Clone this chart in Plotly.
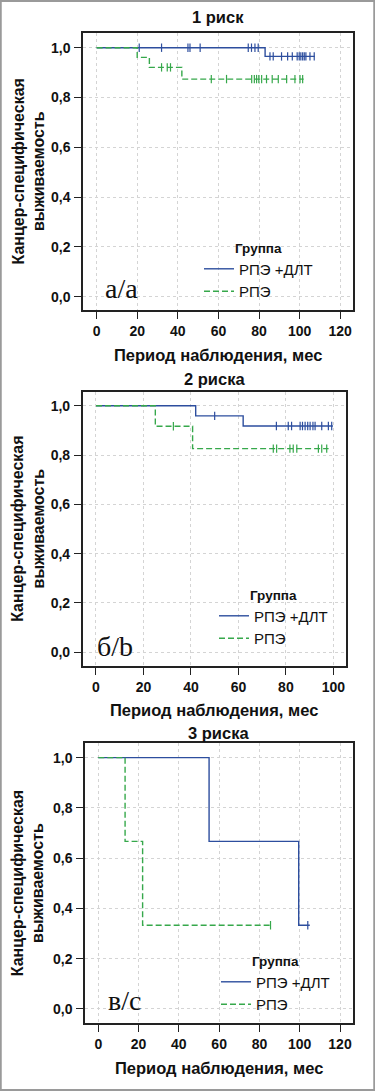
import numpy as np
import plotly.graph_objects as go

# ---------------- data ----------------
panel_titles = ["1 риск", "2 риска", "3 риска"]
panel_letters = ["а/а", "б/b", "в/c"]
group_names = ["РПЭ +ДЛТ", "РПЭ"]

# Panel 1
p1_rpe_dlt_event_t = [83.0]
p1_rpe_dlt_event_s = [0.965]
p1_rpe_dlt_end = 107.5
p1_rpe_dlt_cens = [21, 32, 45, 46, 51, 74.7, 76.3, 78, 79.6,
                   85.4, 87, 91.1, 94.1, 96.4, 98.8, 99.8, 100.6, 101.5, 102.3, 103.1, 105.1, 107.2]
p1_rpe_event_t = [20.0, 26.0, 42.0]
p1_rpe_event_s = [0.961, 0.921, 0.874]
p1_rpe_end = 102.0
p1_rpe_cens = [32, 34.8, 36.4, 56.5, 64, 76.4, 77.7, 78.8, 79.9, 81.3, 83.7, 86.5,
               89.5, 93.6, 97.7, 100.2, 101.5]

# Panel 2
p2_rpe_dlt_event_t = [42.0, 62.0]
p2_rpe_dlt_event_s = [0.959, 0.918]
p2_rpe_dlt_end = 99.8
p2_rpe_dlt_cens = [50, 76, 81, 82.4, 86, 87, 88.1, 89.2, 90.2, 91.4, 92.3, 95.1, 97.9, 99.3]
p2_rpe_event_t = [25.0, 40.7]
p2_rpe_event_s = [0.917, 0.826]
p2_rpe_end = 98.0
p2_rpe_cens = [32.6, 74.7, 76.1, 81.7, 83.1, 84.6, 93.7, 95.1, 97.2]

# Panel 3
p3_rpe_dlt_event_t = [55.0, 99.5]
p3_rpe_dlt_event_s = [0.667, 0.333]
p3_rpe_dlt_end = 105.0
p3_rpe_dlt_cens = [104.0]
p3_rpe_event_t = [13.3, 22.0]
p3_rpe_event_s = [0.667, 0.333]
p3_rpe_end = 86.0
p3_rpe_cens = [85.5]

x_ticks_p1 = [0, 20, 40, 60, 80, 100, 120]
x_ticks_p2 = [0, 20, 40, 60, 80, 100]
x_ticks_p3 = [0, 20, 40, 60, 80, 100, 120]
y_ticks = [0.0, 0.2, 0.4, 0.6, 0.8, 1.0]

# ---------------- styling / layout ----------------
W, H = 375, 1091
BLUE = "#2d4e9e"
GREEN = "#36a84b"
FONT = "Liberation Sans, Arial, sans-serif"

def px_x(p):
    return p / W

def px_y(p):
    return 1 - p / H

panels = [
    dict(dx=(83, 353), dy=(33, 310), xr=[-6.7, 126.3], yr=[-0.053, 1.059], xt=x_ticks_p1,
         blue=(p1_rpe_dlt_event_t, p1_rpe_dlt_event_s, p1_rpe_dlt_end, p1_rpe_dlt_cens),
         green=(p1_rpe_event_t, p1_rpe_event_s, p1_rpe_end, p1_rpe_cens),
         title_y=17, xtitle_y=355, leg=(199, 235), letter=(121, 288)),
    dict(dx=(82.7, 345.7), dy=(391.7, 666), xr=[-5.6, 105.2], yr=[-0.056, 1.057], xt=x_ticks_p2,
         blue=(p2_rpe_dlt_event_t, p2_rpe_dlt_event_s, p2_rpe_dlt_end, p2_rpe_dlt_cens),
         green=(p2_rpe_event_t, p2_rpe_event_s, p2_rpe_end, p2_rpe_cens),
         title_y=379, xtitle_y=710, leg=(214, 582), letter=(115, 646)),
    dict(dx=(85, 352.7), dy=(743.3, 1023.3), xr=[-6.6, 126.3], yr=[-0.057, 1.057], xt=x_ticks_p3,
         blue=(p3_rpe_dlt_event_t, p3_rpe_dlt_event_s, p3_rpe_dlt_end, p3_rpe_dlt_cens),
         green=(p3_rpe_event_t, p3_rpe_event_s, p3_rpe_end, p3_rpe_cens),
         title_y=733, xtitle_y=1068, leg=(216, 948), letter=(124, 1000)),
]

def step_xy(ev_t, ev_s, end):
    xs = [0.0] + list(ev_t) + [end]
    ys = [1.0] + list(ev_s) + [ev_s[-1] if ev_s else 1.0]
    return xs, ys

def surv_at(ev_t, ev_s, t):
    xs = np.array([0.0] + list(ev_t))
    ys = np.array([1.0] + list(ev_s))
    idx = np.searchsorted(xs, np.asarray(t, dtype=float), side="right") - 1
    return ys[idx]

fig = go.Figure()
layout = dict()
annotations = []

for i, p in enumerate(panels):
    n = "" if i == 0 else str(i + 1)
    xa, ya = "x" + n, "y" + n
    leg = "legend" if i == 0 else "legend" + str(i + 1)
    for gi, (key, color, dash) in enumerate([("blue", BLUE, "solid"), ("green", GREEN, "6px,3px")]):
        ev_t, ev_s, end, cens = p[key]
        xs, ys = step_xy(ev_t, ev_s, end)
        fig.add_trace(go.Scatter(
            x=xs, y=ys, mode="lines", line=dict(color=color, width=1.4, dash=dash, shape="hv"),
            name=group_names[gi], xaxis=xa, yaxis=ya, legend=leg, legendgroup=f"{i}{gi}",
            hoverinfo="skip"))
        fig.add_trace(go.Scatter(
            x=cens, y=surv_at(ev_t, ev_s, cens), mode="markers",
            marker=dict(symbol="line-ns", size=6, line=dict(color=color, width=1.2)),
            xaxis=xa, yaxis=ya, showlegend=False, legend=leg, legendgroup=f"{i}{gi}",
            hoverinfo="skip"))

    axcommon = dict(showline=True, mirror=True, linecolor="#222", linewidth=1.5,
                    ticks="outside", ticklen=7, tickcolor="#222", tickwidth=1,
                    showgrid=True, gridcolor="#d4d4d4", griddash="dot", gridwidth=1,
                    zeroline=False, automargin=False,
                    tickfont=dict(family=FONT, size=14, color="#111", weight="bold"))
    layout["xaxis" + n] = dict(axcommon, domain=[px_x(p["dx"][0]), px_x(p["dx"][1])],
                               range=p["xr"], tickvals=p["xt"], anchor=ya)
    layout["yaxis" + n] = dict(axcommon, domain=[px_y(p["dy"][1]), px_y(p["dy"][0])],
                               range=p["yr"], tickvals=y_ticks, tickformat=".1f", anchor=xa,
                               ticklabelstandoff=1)
    layout[leg] = dict(
        x=px_x(p["leg"][0]), y=px_y(p["leg"][1]), xanchor="left", yanchor="top",
        bgcolor="rgba(0,0,0,0)", itemwidth=30, tracegroupgap=0,
        font=dict(family=FONT, size=15, color="#111"),
        title=dict(text="<b>Группа</b>", side="top center",
                   font=dict(family=FONT, size=13.5, color="#111")))
    cx = (p["dx"][0] + p["dx"][1]) / 2
    common_ann = dict(xref="paper", yref="paper", showarrow=False, xanchor="center", yanchor="middle")
    annotations.append(dict(common_ann, text="<b>" + panel_titles[i] + "</b>", x=px_x(cx),
                            y=px_y(p["title_y"]), font=dict(family=FONT, size=16.5, color="#111")))
    annotations.append(dict(common_ann, text="<b>Период наблюдения, мес</b>", x=px_x(cx),
                            y=px_y(p["xtitle_y"]), font=dict(family=FONT, size=16.5, color="#111")))
    cy = (p["dy"][0] + p["dy"][1]) / 2
    annotations.append(dict(common_ann, text="<b>Канцер-специфическая<br>выживаемость</b>",
                            x=px_x(28), y=px_y(cy), textangle=-90,
                            font=dict(family=FONT, size=16, color="#111")))
    annotations.append(dict(common_ann, text=panel_letters[i], x=px_x(p["letter"][0]),
                            y=px_y(p["letter"][1]),
                            font=dict(family="Liberation Serif, Times New Roman, serif", size=28,
                                      color="#111")))

fig.update_layout(
    width=W, height=H, margin=dict(l=0, r=0, t=0, b=0),
    paper_bgcolor="white", plot_bgcolor="white",
    separators=", ",
    annotations=annotations,
    shapes=[dict(type="rect", xref="paper", yref="paper", x0=0.002, x1=0.998, y0=0.001, y1=0.999,
                 line=dict(color="#9a9a9a", width=2))],
    **layout,
)

fig.write_html("out.html", config={"displayModeBar": False},
               post_script="document.body.style.margin='0';document.body.style.overflow='hidden';")
